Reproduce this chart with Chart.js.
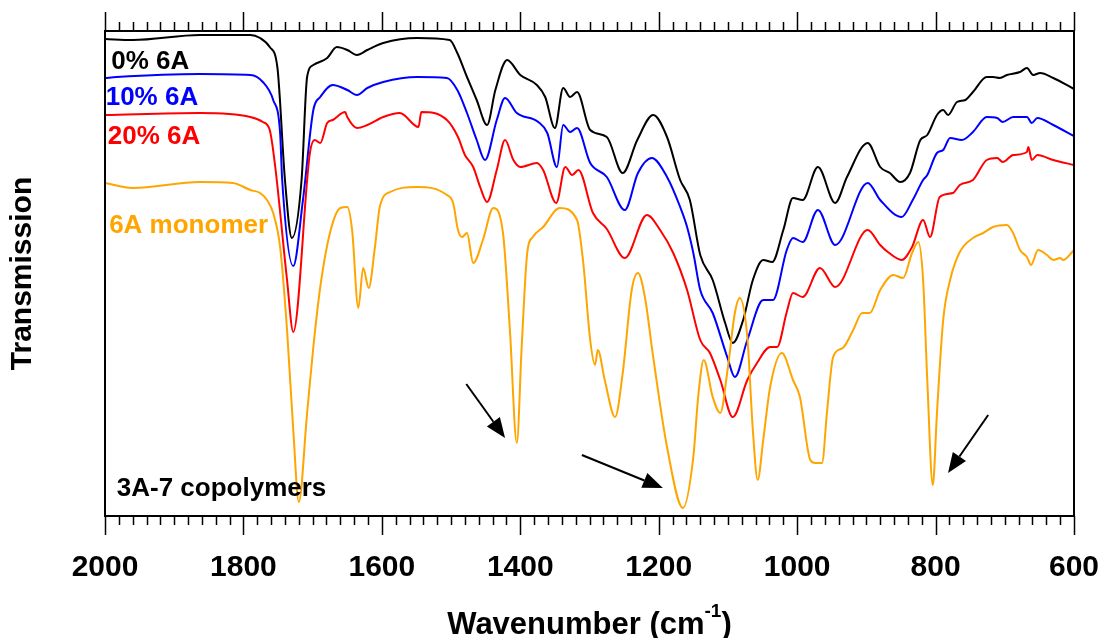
<!DOCTYPE html>
<html>
<head>
<meta charset="utf-8">
<script src="https://cdn.jsdelivr.net/npm/chart.js@4.4.1/dist/chart.umd.min.js"></script>
<style>
html, body { margin: 0; padding: 0; background: #fff; }
canvas { display: block; }
</style>
</head>
<body>
<canvas id="ftir" width="1104" height="638"></canvas>
<script>
// FTIR spectra, 3A-7 copolymers vs 6A monomer (offset transmission, a.u.)
const wn0 = [2000,1960,1863,1790,1776,1762,1751,1740,1730,1716,1708,1699,1679,1665,1650,1636,1621,1598,1549,1502,1491,1477,1463,1448,1436,1419,1400,1376,1364,1350,1338,1328,1318,1299,1275,1252,1231,1208,1188,1169,1155,1140,1122,1104,1093,1078,1064,1049,1036,1020,1006,992,970,945,928,898,880,866,851,837,822,812,798,789,782,769,757,746,726,717,707,697,678,668,659,649,630,600];
const t0 = [477,476,481,481,478,469,449,336,278,336,439,451,458,469,466,461,466,473,478,476,463,439,416,391,426,456,441,431,419,388,428,419,424,386,379,343,376,401,379,336,316,261,236,193,173,196,236,256,254,286,318,316,349,313,339,373,349,343,334,343,376,381,401,406,401,414,416,424,439,439,438,441,444,448,441,443,438,427];

const wn10 = [2000,1983,1863,1790,1772,1757,1747,1744,1728,1714,1699,1689,1671,1650,1636,1621,1598,1549,1506,1491,1477,1463,1451,1434,1422,1405,1374,1361,1347,1338,1328,1318,1299,1275,1249,1230,1210,1188,1169,1159,1150,1140,1122,1101,1090,1072,1049,1035,1015,1006,992,970,945,898,880,849,833,818,812,798,789,779,762,746,726,711,703,688,668,661,653,630,600];
const t10 = [438,439,442,441,434,416,383,336,250,316,406,419,431,426,421,428,434,439,438,426,403,376,356,396,418,403,394,383,349,391,384,388,353,339,306,343,358,339,309,289,263,226,203,159,139,176,216,216,266,278,274,306,271,333,316,299,316,336,341,363,366,378,376,384,399,398,394,399,399,393,398,391,380];

const wn20 = [2000,1863,1790,1772,1762,1754,1737,1728,1704,1697,1689,1679,1671,1653,1650,1636,1621,1598,1574,1547,1543,1506,1490,1480,1468,1458,1448,1434,1422,1410,1400,1376,1367,1348,1335,1325,1316,1295,1275,1249,1217,1198,1179,1159,1140,1126,1111,1093,1072,1058,1039,1029,1015,1006,992,967,945,898,880,869,849,834,818,808,794,775,765,746,726,711,703,688,668,666,661,653,630,600];
const t20 = [401,403,399,394,386,349,236,184,363,376,373,393,396,404,399,388,391,399,403,389,404,396,379,361,349,329,314,346,376,356,349,353,346,313,349,341,346,303,287,258,301,286,263,226,176,163,136,99,136,153,169,169,204,223,219,248,229,286,271,264,256,269,296,279,319,323,331,336,356,358,354,361,364,369,356,361,356,351];

const wnMono = [2000,1960,1863,1815,1790,1776,1766,1757,1747,1737,1728,1720,1708,1699,1689,1675,1660,1650,1643,1634,1627,1619,1610,1603,1588,1549,1506,1497,1490,1484,1477,1468,1454,1439,1425,1415,1405,1398,1390,1382,1367,1343,1318,1309,1299,1292,1288,1278,1263,1252,1239,1230,1220,1208,1188,1165,1150,1143,1135,1122,1111,1100,1090,1083,1072,1064,1057,1049,1039,1022,1006,996,981,974,964,957,948,934,919,906,895,880,861,847,834,825,818,812,804,798,789,779,765,746,731,717,697,688,678,668,662,652,639,630,620,616,600];
const tMono = [333,328,334,333,326,323,316,303,269,186,86,14,103,169,229,283,308,309,286,208,248,228,269,309,324,329,321,313,286,279,283,253,276,308,283,186,73,169,263,279,289,308,296,253,176,151,166,136,99,143,226,243,219,159,69,8,59,119,156,119,103,149,203,218,179,86,36,76,129,163,136,119,56,53,53,103,159,168,186,203,203,226,241,238,263,274,236,136,31,103,196,236,264,278,283,289,291,283,266,259,251,266,261,256,258,256,266];

// text labels and arrows, placed in data units
const noteText = ['0% 6A', '10% 6A', '20% 6A', '6A monomer', '3A-7 copolymers'];
const noteWn = [1991, 1999, 1996, 1994, 1983];
const noteT = [454, 418, 379, 290, 27];
const noteColor = ['#000000', '#0000ff', '#ff0000', '#ffa500', '#000000'];

const arrowFromWn = [1478, 1311, 724];
const arrowFromT = [132, 61, 101];
const arrowToWn = [1422, 1194, 782];
const arrowToT = [78, 28, 43];

const FONT = "'Liberation Sans', Arial, sans-serif";

const pts = (xs, ys) => xs.map((x, i) => ({ x: x, y: ys[i] }));

const serie = (label, xs, ys, cor, ordem) => ({
    label: label, data: pts(xs, ys), borderColor: cor, borderWidth: 2,
    pointRadius: 0, fill: false, cubicInterpolationMode: 'monotone', order: ordem
});

const moldura = {
    id: 'moldura',
    afterDraw(chart) {
        const ctx = chart.ctx, a = chart.chartArea, x = chart.scales.x, y = chart.scales.y;
        ctx.save();
        ctx.strokeStyle = '#000';
        ctx.lineWidth = 2;
        ctx.strokeRect(a.left, a.top, a.right - a.left, a.bottom - a.top);
        ctx.lineWidth = 1.5;
        for (let v = 600; v <= 2000; v += 20) {
            const px = Math.round(x.getPixelForValue(v)) + 0.5;
            const len = v % 200 === 0 ? 19 : 9;
            ctx.beginPath();
            ctx.moveTo(px, a.bottom); ctx.lineTo(px, a.bottom + len);
            ctx.moveTo(px, a.top); ctx.lineTo(px, a.top - len);
            ctx.stroke();
        }
        // x title with superscript
        ctx.fillStyle = '#000';
        ctx.textBaseline = 'alphabetic';
        ctx.font = `bold 31px ${FONT}`;
        const p1 = 'Wavenumber (cm', p3 = ')';
        const w1 = ctx.measureText(p1).width, w3 = ctx.measureText(p3).width;
        ctx.font = `bold 19px ${FONT}`;
        const w2 = ctx.measureText('-1').width;
        const cx = (a.left + a.right) / 2;
        let sx = cx - (w1 + w2 + w3) / 2;
        const base = 634;
        ctx.font = `bold 31px ${FONT}`;
        ctx.fillText(p1, sx, base);
        ctx.font = `bold 19px ${FONT}`;
        ctx.fillText('-1', sx + w1, base - 17);
        ctx.font = `bold 31px ${FONT}`;
        ctx.fillText(p3, sx + w1 + w2, base);
        // notes
        ctx.textBaseline = 'middle';
        ctx.textAlign = 'left';
        ctx.font = `bold 26px ${FONT}`;
        noteText.forEach((t, i) => {
            ctx.fillStyle = noteColor[i];
            ctx.fillText(t, x.getPixelForValue(noteWn[i]), y.getPixelForValue(noteT[i]));
        });
        // arrows
        ctx.strokeStyle = '#000';
        ctx.fillStyle = '#000';
        ctx.lineWidth = 2;
        arrowFromWn.forEach((w, i) => {
            const x0 = x.getPixelForValue(w), y0 = y.getPixelForValue(arrowFromT[i]);
            const x1 = x.getPixelForValue(arrowToWn[i]), y1 = y.getPixelForValue(arrowToT[i]);
            const ang = Math.atan2(y1 - y0, x1 - x0), L = 20, H = 8;
            const bx = x1 - L * Math.cos(ang), by = y1 - L * Math.sin(ang);
            ctx.beginPath(); ctx.moveTo(x0, y0); ctx.lineTo(bx, by); ctx.stroke();
            ctx.beginPath();
            ctx.moveTo(x1, y1);
            ctx.lineTo(bx + H * Math.sin(ang), by - H * Math.cos(ang));
            ctx.lineTo(bx - H * Math.sin(ang), by + H * Math.cos(ang));
            ctx.closePath(); ctx.fill();
        });
        ctx.restore();
    }
};

new Chart(document.getElementById('ftir').getContext('2d'), {
    type: 'line',
    data: {
        datasets: [
            serie('0% 6A', wn0, t0, '#000000', 3),
            serie('10% 6A', wn10, t10, '#0000ff', 2),
            serie('20% 6A', wn20, t20, '#ff0000', 1),
            serie('6A monomer', wnMono, tMono, '#ffa500', 0)
        ]
    },
    options: {
        responsive: false,
        animation: false,
        devicePixelRatio: 1,
        layout: { padding: { left: 5, right: 30, top: 31, bottom: 52 } },
        plugins: { legend: { display: false }, tooltip: { enabled: false } },
        scales: {
            x: {
                type: 'linear', reverse: true, min: 600, max: 2000,
                grid: { display: false, drawTicks: false }, border: { display: false },
                ticks: {
                    stepSize: 200, color: '#000', padding: 34, maxRotation: 0,
                    font: { family: FONT, size: 30, weight: 'bold' },
                    callback: v => String(v)
                },
                afterFit: s => { s.height = 70; s.paddingLeft = 0; s.paddingRight = 0; }
            },
            y: {
                min: 0, max: 485,
                grid: { display: false, drawTicks: false }, border: { display: false },
                ticks: { display: false },
                title: { display: true, text: 'Transmission', color: '#000', padding: 0, font: { family: FONT, size: 30, weight: 'bold' } },
                afterFit: s => { s.width = 100; s.paddingTop = 0; s.paddingBottom = 0; }
            }
        }
    },
    plugins: [moldura]
});
</script>
</body>
</html>
